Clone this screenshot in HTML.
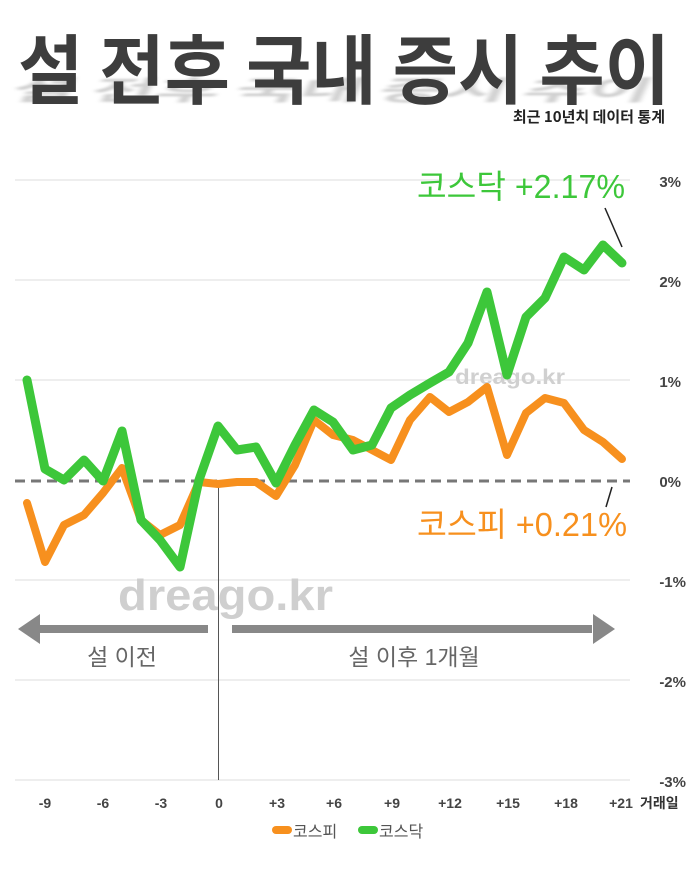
<!DOCTYPE html>
<html><head><meta charset="utf-8"><style>
html,body{margin:0;padding:0;background:#fff;}
svg{display:block;font-family:"Liberation Sans","Noto Sans CJK KR",sans-serif;}
</style></head><body>
<svg width="700" height="875" viewBox="0 0 700 875" xmlns="http://www.w3.org/2000/svg">
<defs>
<filter id="blur" x="-10%" y="-50%" width="120%" height="200%"><feGaussianBlur stdDeviation="3"/></filter>
</defs>
<rect width="700" height="875" fill="#fff"/>
<!-- title -->
<text x="8" y="100" font-size="76" font-weight="bold" fill="#777" opacity="0.35" filter="url(#blur)" textLength="640" lengthAdjust="spacingAndGlyphs" transform="skewX(-25) scale(1,0.35)" transform-origin="0 100" font-family="Noto Sans CJK KR, sans-serif">설 전후 국내 증시 추이</text>
<text x="18" y="98" font-size="76" font-weight="bold" fill="#3d3d3d" textLength="652" lengthAdjust="spacingAndGlyphs" font-family="Noto Sans CJK KR, sans-serif">설 전후 국내 증시 추이</text>
<text x="665" y="122" font-size="15" font-weight="bold" fill="#222" text-anchor="end" font-family="Noto Sans CJK KR, sans-serif">최근 10년치 데이터 통계</text>
<!-- grid -->
<g stroke="#e4e4e4" stroke-width="1.2">
<line x1="15" y1="180" x2="630" y2="180"/><line x1="15" y1="280" x2="630" y2="280"/>
<line x1="15" y1="380" x2="630" y2="380"/><line x1="15" y1="580" x2="630" y2="580"/>
<line x1="15" y1="680" x2="630" y2="680"/><line x1="15" y1="780" x2="630" y2="780"/>
</g>
<g font-size="15" font-weight="bold" fill="#444" text-anchor="end">
<text x="681" y="187">3%</text><text x="681" y="287">2%</text><text x="681" y="387">1%</text>
<text x="681" y="487">0%</text><text x="686" y="587">-1%</text><text x="686" y="687">-2%</text><text x="686" y="787">-3%</text>
</g>
<g font-size="14" font-weight="bold" fill="#444" text-anchor="middle">
<text x="45" y="808">-9</text><text x="103" y="808">-6</text><text x="161" y="808">-3</text><text x="219" y="808">0</text>
<text x="277" y="808">+3</text><text x="334" y="808">+6</text><text x="392" y="808">+9</text><text x="450" y="808">+12</text>
<text x="508" y="808">+15</text><text x="566" y="808">+18</text><text x="621" y="808">+21</text>
</g>
<text x="640" y="808" font-size="14" font-weight="bold" fill="#333">거래일</text>
<!-- watermarks -->
<text x="118" y="610" font-size="44" font-weight="bold" fill="#cfcfcf" textLength="215" lengthAdjust="spacingAndGlyphs">dreago.kr</text>
<text x="455" y="384" font-size="21" font-weight="bold" fill="#d0d0d0" textLength="110" lengthAdjust="spacingAndGlyphs">dreago.kr</text>
<!-- arrows -->
<g fill="#888" stroke="none">
<rect x="30" y="625" width="178" height="8"/>
<polygon points="18,629 40,614 40,644"/>
<rect x="232" y="625" width="360" height="8"/>
<polygon points="615,629 593,614 593,644"/>
</g>
<text x="122" y="665" font-size="23" fill="#666" text-anchor="middle">설 이전</text>
<text x="414" y="665" font-size="23" fill="#666" text-anchor="middle">설 이후 1개월</text>
<line x1="218.5" y1="480" x2="218.5" y2="780" stroke="#555" stroke-width="1"/>
<line x1="15" y1="481" x2="630" y2="481" stroke="#777" stroke-width="3" stroke-dasharray="10,6"/>
<!-- series -->
<polyline fill="none" stroke="#f7901e" stroke-width="8" stroke-linejoin="round" stroke-linecap="round" points="27,503 45,562 64,525 84,515 103,493 122,468 141,520 160,535 180,525 199,482 218,484 237,482 256,482 276,496 295,465 314,420 333,435 353,440 372,450 391,460 410,420 430,397 449,412 468,402 487,387 507,455 526,413 545,398 564,403 584,430 603,442 622,459"/>
<polyline fill="none" stroke="#3dc73a" stroke-width="9" stroke-linejoin="round" stroke-linecap="round" points="27,380 45,469 64,480 84,460 103,481 122,431 141,520 160,540 180,567 199,480 218,426 237,450 256,447 276,483 295,445 314,410 333,422 353,450 372,445 391,408 410,395 430,383 449,372 468,343 487,292 507,375 526,317 545,298 564,257 584,270 603,245 622,263"/>
<!-- labels -->
<line x1="605" y1="208" x2="622" y2="247" stroke="#222" stroke-width="1.5"/>
<line x1="612" y1="487" x2="606" y2="507" stroke="#222" stroke-width="1.5"/>
<text x="417" y="198" font-size="33" fill="#3dc73a" textLength="208" lengthAdjust="spacingAndGlyphs">코스닥 +2.17%</text>
<text x="417" y="536" font-size="33" fill="#f7901e" textLength="210" lengthAdjust="spacingAndGlyphs">코스피 +0.21%</text>
<!-- legend -->
<rect x="272" y="826" width="20" height="8" rx="4" fill="#f7901e"/>
<text x="293" y="837" font-size="16" fill="#555">코스피</text>
<rect x="358" y="826" width="20" height="8" rx="4" fill="#3dc73a"/>
<text x="379" y="837" font-size="16" fill="#555">코스닥</text>
</svg>
</body></html>
